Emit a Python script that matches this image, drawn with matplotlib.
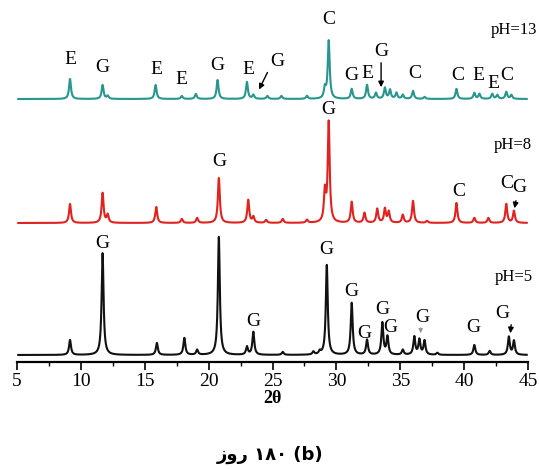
import matplotlib
matplotlib.use("Agg")
import matplotlib.pyplot as plt
import numpy as np

# peak positions (2theta) and heights (arbitrary units)
teal_pos = [9.15, 11.7, 12.1, 15.85, 17.9, 19.0, 20.7, 23.0, 23.5, 24.6, 25.7, 27.7,
            29.1, 29.4, 31.2, 32.4, 33.1, 33.8, 34.2, 34.7, 35.2, 36.0, 36.9, 39.4,
            40.8, 41.2, 42.2, 42.6, 43.3, 43.7]
teal_h = [20, 14, 3, 14, 3, 5, 19, 17, 4, 3, 3, 3,
          10, 58, 10, 14, 6, 11, 9, 6, 4, 8, 2, 10,
          6, 5, 5, 4, 7, 4]

red_pos = [9.15, 11.7, 12.1, 15.9, 17.9, 19.1, 20.8, 23.1, 23.5, 24.5, 25.8, 27.7,
           29.1, 29.4, 31.2, 32.2, 33.2, 33.8, 34.1, 35.2, 36.0, 37.1, 39.4, 40.8,
           41.9, 43.3, 43.9]
red_h = [19, 30, 8, 16, 4, 5, 45, 23, 6, 3, 4, 3,
         30, 100, 21, 10, 14, 14, 11, 8, 22, 2, 20, 5,
         5, 19, 12]

black_pos = [9.15, 11.7, 15.95, 18.1, 19.1, 20.8, 23.0, 23.5, 25.8, 28.2, 28.7, 29.25,
             31.2, 32.4, 33.6, 34.0, 35.2, 36.1, 36.5, 36.9, 37.9, 40.8, 42.0, 43.5,
             43.9]
black_h = [15, 102, 12, 17, 5, 118, 8, 23, 3, 3, 3, 90,
           52, 15, 32, 18, 5, 18, 15, 14, 2, 10, 4, 18,
           14]

series = [
    ("pH=5", black_pos, black_h, 7, "#111111"),
    ("pH=8", red_pos, red_h, 139, "#e0231f"),
    ("pH=13", teal_pos, teal_h, 263, "#27968f"),
]

# phase labels: (text, 2theta, y)
labels = [
    ("E", 9.15, 302), ("G", 11.7, 294), ("E", 15.9, 292), ("E", 17.85, 282),
    ("G", 20.7, 296), ("E", 23.1, 292), ("G", 25.4, 300), ("C", 29.4, 342),
    ("G", 31.2, 287), ("E", 32.4, 289), ("G", 33.5, 310), ("C", 36.1, 289),
    ("C", 39.5, 286), ("E", 41.1, 287), ("E", 42.3, 279), ("C", 43.3, 287),
    ("G", 20.8, 200), ("G", 29.4, 252), ("C", 39.6, 170), ("C", 43.3, 179),
    ("G", 11.7, 119), ("G", 23.5, 40), ("G", 29.2, 112), ("G", 31.2, 70),
    ("G", 32.2, 29), ("G", 33.6, 52), ("G", 34.2, 34), ("G", 36.7, 44),
    ("G", 40.7, 35), ("G", 43.0, 49),
]

ph_pos = [(43.9, 85), (43.8, 217), (43.9, 332)]

x = np.linspace(5.1, 44.9, 3000)
hw = 0.09

fig = plt.figure(figsize=(5.39, 4.69), dpi=100)
ax = fig.add_axes([17 / 539, 107 / 469, 511 / 539, 362 / 469])

for (name, pos, h, off, color), (px, py) in zip(series, ph_pos):
    y = np.zeros_like(x)
    for p, a in zip(pos, h):
        y += a * hw**2 / ((x - p) ** 2 + hw**2)
    ax.plot(x, y + off, color=color, lw=1.5)
    ax.text(px, py, name, ha="center", va="center", fontsize=12,
            family="Liberation Serif")

for t, lx, ly in labels:
    ax.text(lx, ly, t, ha="center", va="center", fontsize=14,
            family="Liberation Serif")
ax.text(44.3, 174, "G", ha="center", va="center", fontsize=14,
        family="Liberation Serif")

arrow = dict(arrowstyle="-|>", color="black", lw=1, mutation_scale=8)
ax.annotate("", xy=(23.85, 270), xytext=(24.7, 292), arrowprops=arrow)
ax.annotate("", xy=(33.5, 272), xytext=(33.5, 302), arrowprops=arrow)
ax.annotate("", xy=(43.9, 151), xytext=(44.1, 164), arrowprops=arrow)
ax.annotate("", xy=(43.6, 26), xytext=(43.7, 40), arrowprops=arrow)
ax.annotate("", xy=(36.6, 26), xytext=(36.6, 37),
            arrowprops=dict(arrowstyle="-|>", color="#999999", lw=0.8,
                            mutation_scale=6))

ax.set_xlim(5, 45)
ax.set_ylim(0, 362)
for side in ["left", "right", "top"]:
    ax.spines[side].set_visible(False)
ax.spines["bottom"].set_linewidth(1.6)
ax.set_yticks([])
ax.set_xticks(np.arange(5, 46, 5))
ax.set_xticks(np.arange(7.5, 45, 5), minor=True)
ax.tick_params(axis="x", which="major", length=6, width=1.2, pad=2,
               labelsize=14)
ax.tick_params(axis="x", which="minor", length=3, width=1)
for lab in ax.get_xticklabels():
    lab.set_family("Liberation Serif")
ax.set_xlabel("2θ", fontsize=13, fontweight="bold", family="Liberation Serif",
              labelpad=0)
ax.patch.set_alpha(0)

fig.text(270 / 539, 1 - 455 / 469, "زور ۱۸۰ (b)", ha="center", va="center",
         fontsize=13, fontweight="bold", family=["DejaVu Sans"])

fig.savefig("out.png", dpi=100)
